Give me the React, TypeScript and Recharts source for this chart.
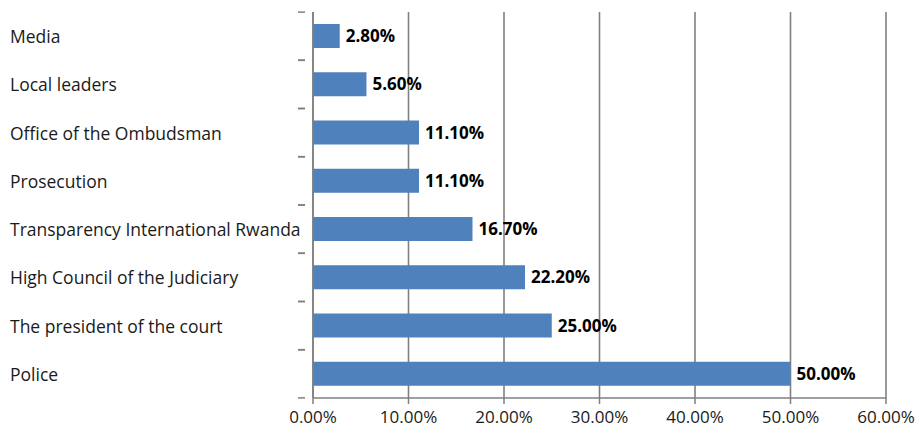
import { Bar, BarChart, CartesianGrid, XAxis, YAxis } from "recharts";

const categories = [
  "Media",
  "Local leaders",
  "Office of the Ombudsman",
  "Prosecution",
  "Transparency International Rwanda",
  "High Council of the Judiciary",
  "The president of the court",
  "Police",
];
const shares = [0.028, 0.056, 0.111, 0.111, 0.167, 0.222, 0.25, 0.5];
const xTicks = [0, 0.1, 0.2, 0.3, 0.4, 0.5, 0.6];

const data = categories.map((name, i) => ({ name, value: shares[i] }));

const pct = (v: number) => `${(v * 100).toFixed(2)}%`;
const font = "'Open Sans', sans-serif";

function CategoryTick(props: any) {
  const { x, y, payload } = props;
  const half = 24;
  return (
    <g>
      <text x={10} y={y} dy={7} textAnchor="start" fontSize={17.5} fill="#1a1a1a" fontFamily={font}>
        {payload.value}
      </text>
      <line x1={x - 7} x2={x} y1={y - half} y2={y - half} stroke="#7f7f7f" strokeWidth={1.5} />
      <line x1={x - 7} x2={x} y1={y + half} y2={y + half} stroke="#7f7f7f" strokeWidth={1.5} />
    </g>
  );
}

function ValueLabel(props: any) {
  const { x, y, width, height, value } = props;
  return (
    <text
      x={x + width + 6}
      y={y + height / 2}
      dy={6}
      fontSize={17}
      fontWeight={700}
      fill="#000"
      fontFamily={font}
    >
      {pct(Number(value))}
    </text>
  );
}

export default function App() {
  return (
    <div style={{ position: "absolute", left: 0, top: 0, width: 917, height: 428, background: "#fff" }}>
      <BarChart
        width={917}
        height={428}
        data={data}
        layout="vertical"
        margin={{ top: 12, right: 31, bottom: 0, left: 0 }}
        barSize={24}
      >
        <CartesianGrid horizontal={false} stroke="#808080" strokeWidth={1.6} />
        <XAxis
          type="number"
          domain={[0, 0.6]}
          ticks={xTicks}
          tickFormatter={pct}
          height={30}
          axisLine={{ stroke: "#7f7f7f", strokeWidth: 1.5 }}
          tickLine={{ stroke: "#7f7f7f", strokeWidth: 1.5 }}
          tickSize={6}
          tickMargin={7}
          tick={{ fontSize: 17, fill: "#1a1a1a", fontFamily: font }}
          interval={0}
        />
        <YAxis
          type="category"
          dataKey="name"
          width={313}
          axisLine={{ stroke: "#7f7f7f", strokeWidth: 1.5 }}
          tickLine={false}
          tick={<CategoryTick />}
          interval={0}
        />
        <Bar dataKey="value" fill="#4F81BD" isAnimationActive={false} label={<ValueLabel />} />
      </BarChart>
    </div>
  );
}
